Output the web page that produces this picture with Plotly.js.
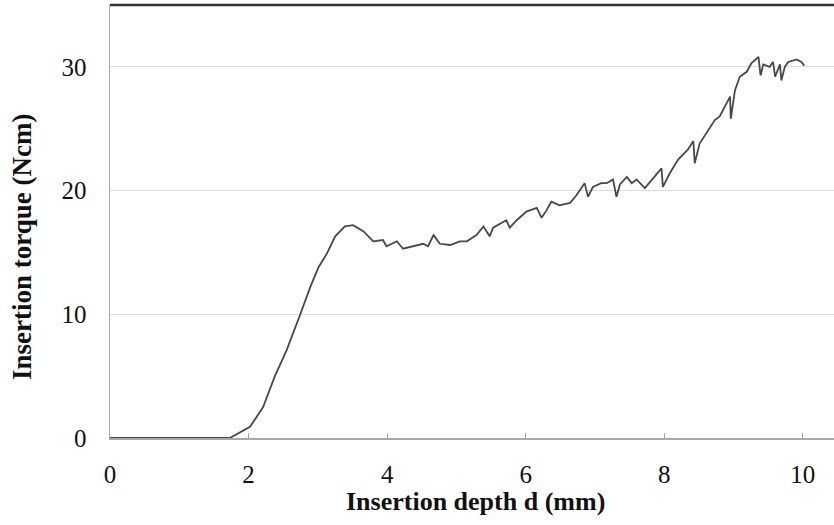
<!DOCTYPE html>
<html>
<head>
<meta charset="utf-8">
<script src="https://cdn.plot.ly/plotly-3.0.1.min.js"></script>
<style>html,body{margin:0;padding:0;background:#fff;}#chart{width:834px;height:525px;}</style>
</head>
<body>
<div id="chart"></div>
<script>
// Insertion depth (mm)
const depth = [0, 0.5, 1.0, 1.5, 1.73, 2.02, 2.21, 2.38, 2.55, 2.74, 2.89, 3.01, 3.13, 3.25, 3.39, 3.51, 3.66, 3.80, 3.94, 3.99, 4.14, 4.23, 4.38, 4.52, 4.59, 4.67, 4.76, 4.91, 5.05, 5.15, 5.29, 5.39, 5.48, 5.53, 5.72, 5.77, 5.87, 6.01, 6.16, 6.23, 6.30, 6.37, 6.49, 6.64, 6.73, 6.85, 6.90, 6.97, 7.09, 7.17, 7.26, 7.31, 7.36, 7.46, 7.53, 7.60, 7.72, 7.84, 7.96, 7.98, 8.08, 8.20, 8.34, 8.42, 8.44, 8.51, 8.61, 8.73, 8.80, 8.90, 8.95, 8.96, 9.02, 9.09, 9.19, 9.26, 9.36, 9.39, 9.43, 9.52, 9.57, 9.60, 9.67, 9.69, 9.74, 9.79, 9.91, 9.98, 10.02];
// Insertion torque (Ncm)
const torque = [0, 0, 0, 0, 0, 0.9, 2.5, 5.0, 7.1, 9.9, 12.2, 13.8, 14.9, 16.3, 17.1, 17.2, 16.7, 15.9, 16.0, 15.5, 15.9, 15.3, 15.5, 15.7, 15.5, 16.4, 15.7, 15.6, 15.9, 15.9, 16.4, 17.1, 16.3, 17.0, 17.6, 17.0, 17.6, 18.3, 18.6, 17.8, 18.4, 19.1, 18.8, 19.0, 19.6, 20.6, 19.5, 20.3, 20.6, 20.6, 20.9, 19.5, 20.5, 21.1, 20.6, 20.9, 20.2, 21.0, 21.8, 20.3, 21.4, 22.5, 23.3, 24.0, 22.2, 23.8, 24.7, 25.7, 26.0, 27.1, 27.6, 25.8, 28.1, 29.2, 29.6, 30.3, 30.8, 29.3, 30.2, 30.0, 30.4, 29.2, 30.2, 28.9, 30.0, 30.4, 30.6, 30.4, 30.1];
const xTicks = [0, 2, 4, 6, 8, 10];
const yTicks = [0, 10, 20, 30];
const xTitle = 'Insertion depth d (mm)';
const yTitle = 'Insertion torque (Ncm)';

const serif = "Liberation Serif, Times New Roman, serif";

Plotly.newPlot('chart', [{
  x: depth, y: torque, type: 'scatter', mode: 'lines',
  line: {color: '#484848', width: 1.8},
  hoverinfo: 'skip', showlegend: false
}], {
  width: 834, height: 525,
  margin: {l: 110, r: 0, t: 5, b: 87},
  paper_bgcolor: '#fff', plot_bgcolor: '#fff',
  xaxis: {
    range: [0, 10.45], tickvals: xTicks, ticktext: xTicks.map(String),
    showgrid: false, zeroline: false,
    showline: true, linecolor: '#a8a8a8', linewidth: 1.5,
    ticks: 'inside', ticklen: 5, tickcolor: '#a8a8a8', tickwidth: 1,
    ticklabelstandoff: 13,
    tickfont: {family: serif, size: 25, color: '#111'}
  },
  yaxis: {
    range: [0, 35], tickvals: yTicks, ticktext: yTicks.map(String),
    showgrid: true, gridcolor: '#dcdcdc', gridwidth: 1.2,
    zeroline: false,
    showline: true, linecolor: '#a8a8a8', linewidth: 1.5,
    ticks: '', ticklabelstandoff: 17,
    tickfont: {family: serif, size: 25, color: '#111'}
  },
  annotations: [
    {text: '<b>' + xTitle + '</b>', xref: 'paper', yref: 'paper', x: 0.5045, y: -0.1455,
     xanchor: 'center', yanchor: 'middle', showarrow: false,
     font: {family: serif, size: 26, color: '#111'}},
    {text: '<b>' + yTitle + '</b>', xref: 'paper', yref: 'paper', x: -0.1215, y: 0.441,
     xanchor: 'center', yanchor: 'middle', textangle: -90, showarrow: false,
     font: {family: serif, size: 27, color: '#111'}}
  ],
  shapes: [{type: 'line', xref: 'paper', yref: 'paper', x0: 0, x1: 1, y0: 1, y1: 1,
            line: {color: '#333', width: 2.5}}]
}, {staticPlot: true, displayModeBar: false});
</script>
</body>
</html>
